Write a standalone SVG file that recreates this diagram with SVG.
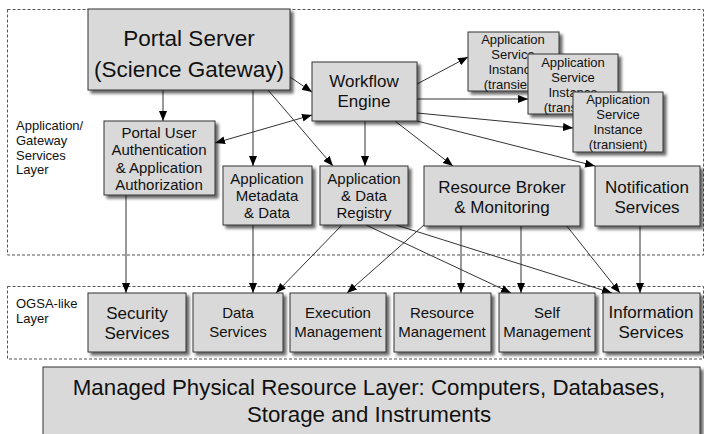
<svg xmlns="http://www.w3.org/2000/svg" width="704" height="434" viewBox="0 0 704 434">
<defs>
<filter id="sh" x="-10%" y="-10%" width="130%" height="130%">
<feDropShadow dx="3" dy="3" stdDeviation="1.5" flood-color="#000" flood-opacity="0.6"/>
</filter>
<marker id="ah" markerUnits="userSpaceOnUse" markerWidth="10" markerHeight="10" viewBox="0 0 10 10" refX="10" refY="5" orient="auto-start-reverse">
<path d="M0,1 L10,5 L0,9 z" fill="#000"/>
</marker>
<style>
.layer{fill:none;stroke:#555;stroke-width:1;stroke-dasharray:3,2}
.box{fill:#d9d9d9;stroke:#333;stroke-width:1;filter:url(#sh)}
text{font-family:"Liberation Sans",Arial,sans-serif;fill:#111;text-anchor:middle}
.lbl{text-anchor:start;font-size:13px}
.s13{font-size:13px}
.s15{font-size:15px}
.s17{font-size:17px}
.s24{font-size:22.5px}
.s22{font-size:22.3px}
.c line{stroke:#333;stroke-width:1;marker-end:url(#ah)}
</style>
</defs>
<rect width="704" height="434" fill="#fff"/>
<g id="layers">
<rect class="layer" x="7.5" y="9.5" width="696" height="245.5"/>
<rect class="layer" x="7.5" y="286.5" width="696" height="72.5"/>
<text class="lbl" x="16" y="130">Application/</text>
<text class="lbl" x="16" y="145">Gateway</text>
<text class="lbl" x="16" y="160">Services</text>
<text class="lbl" x="16" y="174">Layer</text>
<text class="lbl" x="16" y="308">OGSA-like</text>
<text class="lbl" x="16" y="323">Layer</text>
</g>
<g id="connectors" class="c">
<line x1="163" y1="90" x2="163" y2="121"/>
<line x1="253" y1="90" x2="253" y2="166"/>
<line x1="268" y1="90" x2="333" y2="166"/>
<line x1="290" y1="77" x2="312" y2="92"/>
<line x1="312" y1="115" x2="215" y2="143" marker-start="url(#ah)"/>
<line x1="365" y1="121" x2="365" y2="166"/>
<line x1="395" y1="121" x2="453" y2="166"/>
<line x1="417" y1="121" x2="595" y2="166"/>
<line x1="417" y1="84" x2="468" y2="57"/>
<line x1="417" y1="99" x2="528" y2="99"/>
<line x1="417" y1="113" x2="573" y2="128"/>
<line x1="126" y1="195" x2="126" y2="293"/>
<line x1="253" y1="225" x2="253" y2="293"/>
<line x1="342" y1="225" x2="276" y2="293"/>
<line x1="424" y1="225" x2="347" y2="293"/>
<line x1="461" y1="225" x2="461" y2="293"/>
<line x1="521" y1="225" x2="521" y2="293"/>
<line x1="566" y1="225" x2="620" y2="293"/>
<line x1="640" y1="226" x2="640" y2="293"/>
<line x1="366" y1="225" x2="511" y2="293"/>
<line x1="396" y1="225" x2="612" y2="293"/>
</g>
<g id="portal-server">
<rect class="box" x="88" y="9" width="202" height="81"/>
<text class="s24" x="189" y="46">Portal Server</text>
<text class="s24" x="189" y="77">(Science Gateway)</text>
</g>
<g id="workflow-engine">
<rect class="box" x="312" y="62" width="105" height="59"/>
<text class="s17" x="364" y="87">Workflow</text>
<text class="s17" x="364" y="107">Engine</text>
</g>
<g id="asi-1">
<rect class="box" x="468" y="32" width="91" height="59"/>
<text class="s13" x="513" y="44">Application</text>
<text class="s13" x="513" y="59">Service</text>
<text class="s13" x="513" y="74">Instance</text>
<text class="s13" x="513" y="89">(transient)</text>
</g>
<g id="asi-2">
<rect class="box" x="528" y="54" width="90" height="60"/>
<text class="s13" x="573" y="67">Application</text>
<text class="s13" x="573" y="82">Service</text>
<text class="s13" x="573" y="97">Instance</text>
<text class="s13" x="573" y="112">(transient)</text>
</g>
<g id="asi-3">
<rect class="box" x="573" y="92" width="90" height="60"/>
<text class="s13" x="618" y="104">Application</text>
<text class="s13" x="618" y="119">Service</text>
<text class="s13" x="618" y="134">Instance</text>
<text class="s13" x="618" y="149">(transient)</text>
</g>
<g id="portal-user-auth">
<rect class="box" x="104" y="121" width="111" height="74"/>
<text class="s15" x="159" y="138">Portal User</text>
<text class="s15" x="159" y="155">Authentication</text>
<text class="s15" x="159" y="173">&amp; Application</text>
<text class="s15" x="159" y="190">Authorization</text>
</g>
<g id="app-metadata">
<rect class="box" x="223" y="166" width="89" height="59"/>
<text class="s15" x="267" y="184">Application</text>
<text class="s15" x="267" y="201">Metadata</text>
<text class="s15" x="267" y="218">&amp; Data</text>
</g>
<g id="app-registry">
<rect class="box" x="320" y="166" width="88" height="59"/>
<text class="s15" x="364" y="184">Application</text>
<text class="s15" x="364" y="201">&amp; Data</text>
<text class="s15" x="364" y="218">Registry</text>
</g>
<g id="resource-broker">
<rect class="box" x="424" y="166" width="156" height="60"/>
<text class="s17" x="502" y="193">Resource Broker</text>
<text class="s17" x="502" y="213">&amp; Monitoring</text>
</g>
<g id="notification">
<rect class="box" x="595" y="166" width="105" height="60"/>
<text class="s17" x="647" y="193">Notification</text>
<text class="s17" x="647" y="213">Services</text>
</g>
<g id="security-services">
<rect class="box" x="88" y="293" width="98" height="59"/>
<text class="s17" x="137" y="319">Security</text>
<text class="s17" x="137" y="339">Services</text>
</g>
<g id="data-services">
<rect class="box" x="193" y="293" width="90" height="59"/>
<text class="s15" x="238" y="318">Data</text>
<text class="s15" x="238" y="337">Services</text>
</g>
<g id="execution-management">
<rect class="box" x="290" y="293" width="96" height="59"/>
<text class="s15" x="338" y="318">Execution</text>
<text class="s15" x="338" y="337">Management</text>
</g>
<g id="resource-management">
<rect class="box" x="394" y="293" width="97" height="59"/>
<text class="s15" x="442" y="318">Resource</text>
<text class="s15" x="442" y="337">Management</text>
</g>
<g id="self-management">
<rect class="box" x="499" y="293" width="96" height="59"/>
<text class="s15" x="547" y="318">Self</text>
<text class="s15" x="547" y="337">Management</text>
</g>
<g id="information-services">
<rect class="box" x="603" y="293" width="97" height="59"/>
<text class="s17" x="651" y="318">Information</text>
<text class="s17" x="651" y="338">Services</text>
</g>
<g id="physical-layer">
<rect class="box" x="43" y="367" width="657" height="75"/>
<text class="s22" x="369" y="395">Managed Physical Resource Layer: Computers, Databases,</text>
<text class="s22" x="369" y="422">Storage and Instruments</text>
</g>
</svg>
